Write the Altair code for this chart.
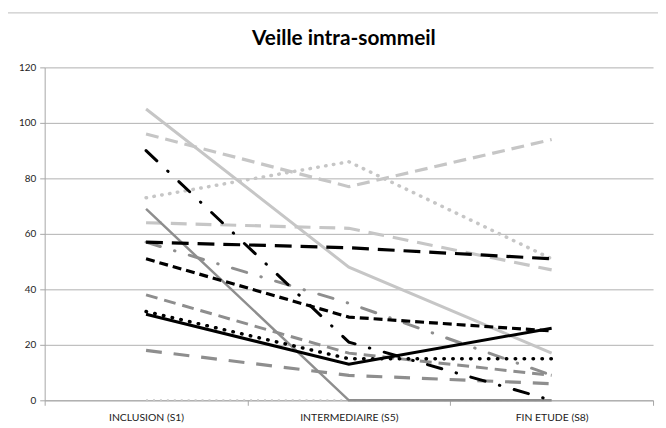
import altair as alt
import pandas as pd

stages = ["INCLUSION (S1)", "INTERMEDIAIRE (S5)", "FIN ETUDE (S8)"]

# values at S1, S5, S8 for each patient line
light_solid = [105, 48, 17]
light_dash = [96, 77, 94]
light_dot = [73, 86, 51]
light_longdash = [64, 62, 47]
light_zero_dot = [0, 0, 0]
grey_solid = [69, 0, 0]
grey_dashdot = [57, 35, 9]
grey_dash = [38, 17, 9]
grey_longdash = [18, 9, 6]
black_dashdot = [90, 21, 0]
black_longdash = [57, 55, 51]
black_dash = [51, 30, 25]
black_solid = [31, 13, 26]
black_dot = [32, 15, 15]

LIGHT = "#c6c6c6"
GREY = "#8e8e8e"
BLACK = "#000000"

# (name, values, color, dash, width, cap)
series = [
    ("light_zero_dot", light_zero_dot, LIGHT, [2, 5], 2, "butt"),
    ("light_solid", light_solid, LIGHT, [], 3, "butt"),
    ("light_dash", light_dash, LIGHT, [13, 7], 3.2, "butt"),
    ("light_dot", light_dot, LIGHT, [0.5, 7.5], 3.5, "round"),
    ("light_longdash", light_longdash, LIGHT, [16, 9], 3.2, "butt"),
    ("grey_solid", grey_solid, GREY, [], 2.5, "butt"),
    ("grey_dashdot", grey_dashdot, GREY, [15, 15, 0.5, 15], 3, "round"),
    ("grey_dash", grey_dash, GREY, [12, 7], 3, "butt"),
    ("grey_longdash", grey_longdash, GREY, [16, 12], 3.2, "butt"),
    ("black_dashdot", black_dashdot, BLACK, [15, 15, 0.5, 15], 3, "round"),
    ("black_longdash", black_longdash, BLACK, [17, 9], 3.2, "butt"),
    ("black_dash", black_dash, BLACK, [9, 5], 3.2, "butt"),
    ("black_solid", black_solid, BLACK, [], 3, "butt"),
    ("black_dot", black_dot, BLACK, [0.5, 8.5], 3.5, "round"),
]

rows = []
for name, vals, *_ in series:
    for st, v in zip(stages, vals):
        rows.append({"series": name, "stage": st, "value": v})
df = pd.DataFrame(rows)

x_enc = alt.X(
    "stage:N",
    sort=stages,
    bandPosition=0.5,
    scale=alt.Scale(type="band", domain=stages, paddingInner=0, paddingOuter=0),
    axis=alt.Axis(title=None, labelAngle=0, tickBand="extent", tickSize=5,
                  labelPadding=7, domainColor="#a6a6a6", tickColor="#a6a6a6",
                  labelFont="Lato", labelFontSize=10.5, labelColor="#222222"),
)
y_enc = alt.Y(
    "value:Q",
    scale=alt.Scale(domain=[0, 120], nice=False),
    axis=alt.Axis(title=None, values=[0, 20, 40, 60, 80, 100, 120], tickSize=5,
                  labelPadding=4, grid=True, gridColor="#b0b0b0",
                  domainColor="#a6a6a6", tickColor="#a6a6a6",
                  labelFont="Lato", labelFontSize=10, labelColor="#222222"),
)

frame = alt.Chart(pd.DataFrame({"a": [0]})).mark_rect(
    fillOpacity=0, stroke="#bdbdbd", strokeWidth=1
).encode(x=alt.value(-38), x2=alt.value(640), y=alt.value(-55), y2=alt.value(370))

layers = [frame]
for name, vals, color, dash, width, cap in series:
    kw = dict(color=color, strokeWidth=width, strokeCap=cap)
    if dash:
        kw["strokeDash"] = dash
    layers.append(
        alt.Chart(df)
        .transform_filter(alt.datum.series == name)
        .mark_line(**kw)
        .encode(x=x_enc, y=y_enc)
    )

chart = (
    alt.layer(*layers)
    .properties(
        width=614,
        height=336,
        autosize=alt.AutoSizeParams(type="none"),
        padding={"left": 37, "top": 58, "right": 5, "bottom": 26},
        title=alt.TitleParams("Veille intra-sommeil", font="Lato", fontSize=21,
                              fontWeight="bold", anchor="middle", frame="group",
                              dx=-5, dy=51, offset=14, color="#000000"),
    )
    .configure_view(stroke=None)
)

chart.save("out.html", embed_options={"renderer": "svg", "actions": False})
